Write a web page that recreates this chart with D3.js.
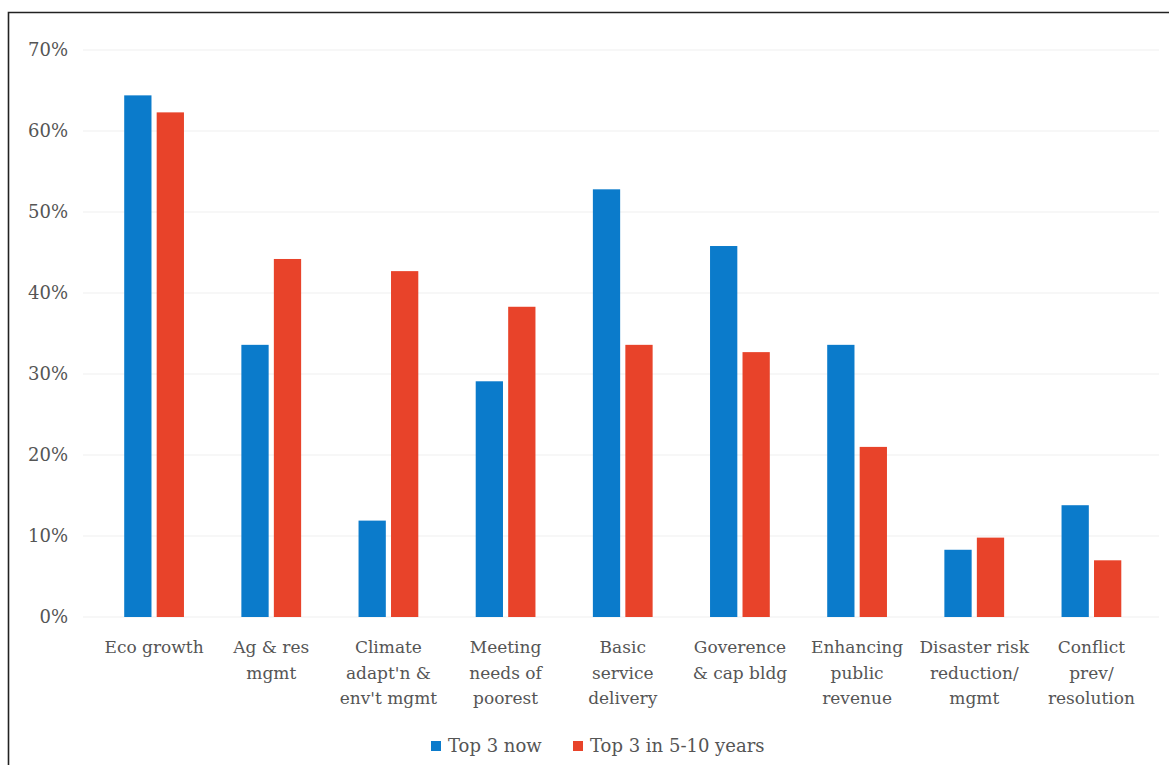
<!DOCTYPE html>
<html>
<head>
<meta charset="utf-8">
<script src="https://cdn.jsdelivr.net/npm/d3@7"></script>
<style>
  body { margin: 0; background: #fff; }
  text { font-family: "DejaVu Serif", serif; fill: #555; }
</style>
</head>
<body>
<div id="chart"></div>
<script>
// Categories (each line of the tick label)
const categories = [
    ["Eco growth"],
    ["Ag & res", "mgmt"],
    ["Climate", "adapt'n &", "env't mgmt"],
    ["Meeting", "needs of", "poorest"],
    ["Basic", "service", "delivery"],
    ["Goverence", "& cap bldg"],
    ["Enhancing", "public", "revenue"],
    ["Disaster risk", "reduction/", "mgmt"],
    ["Conflict", "prev/", "resolution"]
];
const seriesNames = ["Top 3 now", "Top 3 in 5-10 years"];
const topNow = [64.4, 33.6, 11.9, 29.1, 52.8, 45.8, 33.6, 8.3, 13.8];
const topLater = [62.3, 44.2, 42.7, 38.3, 33.6, 32.7, 21.0, 9.8, 7.0];
const yTicks = [0, 10, 20, 30, 40, 50, 60, 70];

const W = 1169, H = 765;
const colors = ["#0b7bcb", "#e8432a"];

const svg = d3.select("#chart").append("svg")
    .attr("width", W)
    .attr("height", H);

// frame
svg.append("path")
    .attr("d", "M8.5," + H + "V12.5H" + W)
    .attr("fill", "none")
    .attr("stroke", "#222")
    .attr("stroke-width", 1.6);

const x0 = d3.scaleBand()
    .domain(d3.range(categories.length))
    .range([95.5, 1150]);

const x1 = d3.scaleBand()
    .domain([0, 1])
    .range([x0.bandwidth() * 0.245, x0.bandwidth() * 0.755])
    .paddingInner(0.16);

const y = d3.scaleLinear()
    .domain([0, 70])
    .range([617, 50]);

// gridlines
svg.append("g")
    .selectAll("line")
    .data(yTicks)
    .enter().append("line")
    .attr("x1", 83)
    .attr("x2", 1159)
    .attr("y1", d => y(d))
    .attr("y2", d => y(d))
    .attr("stroke", "#f7f7f7")
    .attr("stroke-width", 2);

// y axis labels
const yAxis = svg.append("g")
    .attr("transform", "translate(68,0)")
    .call(d3.axisLeft(y).tickValues(yTicks).tickSize(0).tickPadding(0).tickFormat(d => d + "%"));
yAxis.select(".domain").remove();
yAxis.selectAll("text")
    .style("font-size", "18px")
    .style("font-family", "'DejaVu Serif', serif")
    .attr("fill", "#555");

// bars
const data = categories.map((c, i) => ({ i: i, vals: [topNow[i], topLater[i]] }));
svg.append("g")
    .selectAll("g")
    .data(data)
    .enter().append("g")
    .attr("transform", d => "translate(" + x0(d.i) + ",0)")
    .selectAll("rect")
    .data(d => d.vals.map((v, k) => ({ k: k, v: v })))
    .enter().append("rect")
    .attr("x", d => x1(d.k))
    .attr("y", d => y(d.v))
    .attr("width", x1.bandwidth())
    .attr("height", d => y(0) - y(d.v))
    .attr("fill", d => colors[d.k]);

// x labels
const xl = svg.append("g");
categories.forEach((lines, i) => {
    const t = xl.append("text")
        .attr("x", x0(i) + x0.bandwidth() / 2)
        .attr("y", 653)
        .attr("text-anchor", "middle")
        .style("font-size", "17px");
    lines.forEach((l, j) => {
        t.append("tspan")
            .attr("x", x0(i) + x0.bandwidth() / 2)
            .attr("dy", j === 0 ? 0 : 25.5)
            .text(l);
    });
});

// legend
const legend = svg.append("g")
    .attr("transform", "translate(431,746)");
const legX = [0, 142];
seriesNames.forEach((name, i) => {
    legend.append("rect")
        .attr("x", legX[i])
        .attr("y", -5)
        .attr("width", 10)
        .attr("height", 10)
        .attr("fill", colors[i]);
    legend.append("text")
        .attr("x", legX[i] + 17)
        .attr("y", 0)
        .attr("dy", "0.35em")
        .style("font-size", "18px")
        .text(name);
});
</script>
</body>
</html>
